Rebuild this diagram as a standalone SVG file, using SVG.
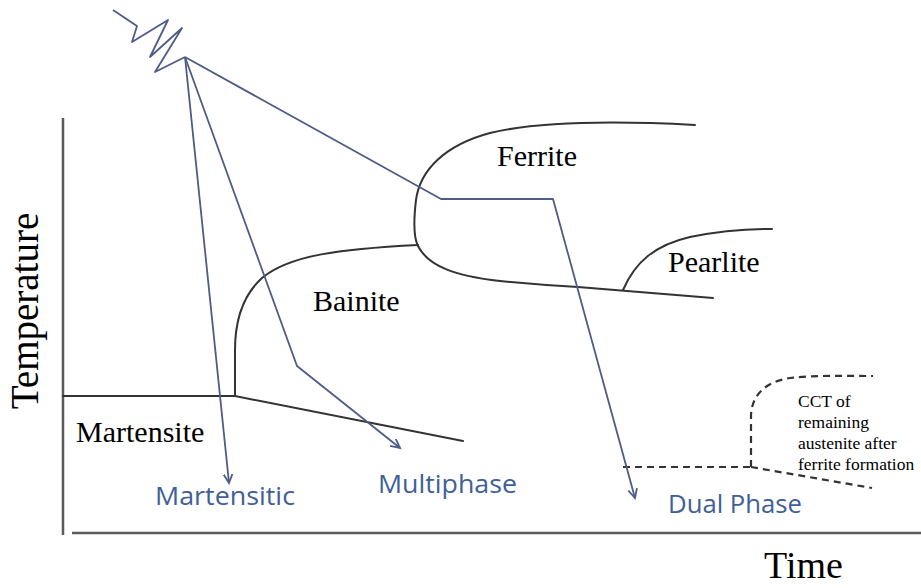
<svg xmlns="http://www.w3.org/2000/svg" width="921" height="588" viewBox="0 0 921 588">
<style>
.axis{stroke:#5a5a5a;stroke-width:2.5;fill:none}
.curve{stroke:#333;stroke-width:2;fill:none;stroke-linecap:round}
.dash{stroke:#333;stroke-width:2.2;fill:none;stroke-dasharray:7,5}
.path{stroke:#4f5b88;stroke-width:1.8;fill:none;stroke-linejoin:round}
.lbl{font-family:"Liberation Serif","Times New Roman",serif;fill:#000}
.blue{font-family:"Open Sans","Noto Sans",sans-serif;fill:#3f6096;font-size:26px}
</style>
<defs>
<marker id="arr" markerUnits="userSpaceOnUse" markerWidth="12" markerHeight="12" refX="9" refY="5" orient="auto">
<path d="M0,0.5 L9,5 L0,9.5" fill="none" stroke="#4f5b88" stroke-width="1.8"/>
</marker>
</defs>
<rect width="921" height="588" fill="#fff"/>
<g id="axes">
<line class="axis" x1="63" y1="118" x2="63" y2="535"/>
<line class="axis" x1="72" y1="533" x2="921" y2="533"/>
<text class="lbl" font-size="39" transform="translate(38,311) rotate(-90)" text-anchor="middle">Temperature</text>
<text class="lbl" font-size="38" x="764" y="578">Time</text>
</g>
<g id="phase-boundaries">
<path class="curve" d="M695,125 C620,121 540,121 490,133 C445,145 420,170 416,200 C413,225 414,238 418,246 C428,266 455,276 500,281 C530,284 560,286 578,287 L713,298"/>
<path class="curve" d="M418,245 C340,249 290,255 262,278 C240,298 235,325 235,350 L235,396"/>
<path class="curve" d="M623,290 C635,262 655,245 690,237 C720,231 750,229 772,229"/>
<path class="curve" d="M63,396 L235,396 L463,441"/>
</g>
<g id="cct-remaining">
<path class="dash" d="M623,467 L751,467"/>
<path class="dash" d="M751,467 L751,415 C752,395 765,382 790,378 C815,375 845,376 873,376"/>
<path class="dash" d="M751,467 L872,488"/>
</g>
<g id="connectors">
<path class="path" d="M113,10 L137,26 L132,42 L168,20 L150,57 L182,28 L155,72 L185,57"/>
<path class="path" d="M185,57 L229,483" marker-end="url(#arr)"/>
<path class="path" d="M185,57 L297,366 L400,448" marker-end="url(#arr)"/>
<path class="path" d="M185,57 L441,199 L553,199 L635,498" marker-end="url(#arr)"/>
</g>
<g id="ferrite"><text class="lbl" font-size="30" x="497" y="166">Ferrite</text></g>
<g id="pearlite"><text class="lbl" font-size="30" x="668" y="272">Pearlite</text></g>
<g id="bainite"><text class="lbl" font-size="30" x="313" y="311">Bainite</text></g>
<g id="martensite"><text class="lbl" font-size="30" x="76" y="442">Martensite</text></g>
<g id="cct-label">
<text class="lbl" font-size="17.5" x="798" y="407">CCT of</text>
<text class="lbl" font-size="17.5" x="798" y="428">remaining</text>
<text class="lbl" font-size="17.5" x="798" y="449">austenite after</text>
<text class="lbl" font-size="17.5" x="798" y="470">ferrite formation</text>
</g>
<g id="martensitic"><text class="blue" x="155" y="505" textLength="140" lengthAdjust="spacingAndGlyphs">Martensitic</text></g>
<g id="multiphase"><text class="blue" x="378" y="493" textLength="139" lengthAdjust="spacingAndGlyphs">Multiphase</text></g>
<g id="dualphase"><text class="blue" x="668" y="513" textLength="134" lengthAdjust="spacingAndGlyphs">Dual Phase</text></g>
</svg>
